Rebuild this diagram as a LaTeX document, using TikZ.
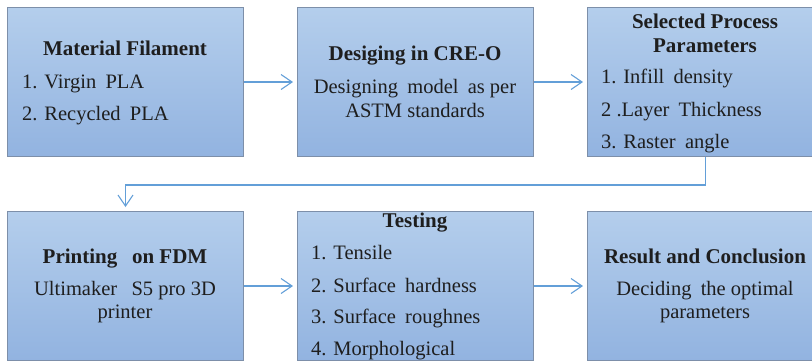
\documentclass[tikz,border=0pt]{standalone}
\usepackage{fontspec}
\setmainfont{Liberation Serif}[UprightFont=*, BoldFont=* Bold]
\newfontfamily\stageserif{Liberation Serif}
\newfontfamily\stageserifbold{Liberation Serif Bold}
\usetikzlibrary{arrows.meta}
\definecolor{boxtop}{HTML}{B4CEEC}
\definecolor{boxbot}{HTML}{92B3E0}
\definecolor{boxline}{HTML}{7D8FA9}
\definecolor{flow}{HTML}{639FD8}
\definecolor{ink}{HTML}{1E1E1E}
\newcommand{\gap}{\hspace{0.45em}}

\begin{document}
\begin{tikzpicture}[x=1pt,y=-1pt,
  stage/.style={draw=boxline, line width=1pt, top color=boxtop, bottom color=boxbot,
    minimum width=236pt, minimum height=149pt, anchor=north west, inner sep=0pt},
  titletext/.style={font=\stageserifbold\fontsize{21}{24}\selectfont, text=ink, inner sep=0pt, anchor=base},
  bodytext/.style={font=\stageserif\fontsize{20.5}{24}\selectfont, text=ink, inner sep=0pt, anchor=base},
  entry/.style={bodytext, anchor=base west},
  flowarrow/.style={draw=flow, line width=1.1pt, -{Straight Barb[length=11pt,width=15pt]}, shorten >=4pt}
]
\useasboundingbox (0,0) rectangle (812,360);
\clip (0,0) rectangle (812,360);

% process stages
\node[stage] (b1) at (7,7) {};
\node[stage] (b2) at (297,7) {};
\node[stage] (b3) at (587,7) {};
\node[stage] (b4) at (7,211) {};
\node[stage] (b5) at (297,211) {};
\node[stage] (b6) at (587,211) {};

% stage 1
\node[titletext] (t1) at (125,55) {Material Filament};
\node[entry] (t1a) at (22,88) {1. Virgin\gap PLA};
\node[entry] (t1b) at (22,120) {2. Recycled\gap PLA};

% stage 2
\node[titletext] (t2) at (415,60) {Desiging in CRE-O};
\node[bodytext] (t2a) at (415,93) {Designing\gap model\gap as per};
\node[bodytext] (t2b) at (415,117) {ASTM standards};

% stage 3
\node[titletext] (t3) at (705,28) {Selected Process};
\node[titletext] (t3b) at (705,52) {Parameters};
\node[entry] (t3c) at (601,83) {1. Infill\gap density};
\node[entry] (t3d) at (601,116) {2 .Layer\gap Thickness};
\node[entry] (t3e) at (601,148) {3. Raster\gap angle};

% stage 4
\node[titletext] (t4) at (125,263) {Printing\hspace{0.7em}on FDM};
\node[bodytext] (t4a) at (125,295) {Ultimaker\hspace{0.7em}S5 pro 3D};
\node[bodytext] (t4b) at (125,318) {printer};

% stage 5
\node[titletext] (t5) at (415,227) {Testing};
\node[entry] (t5a) at (311,259) {1. Tensile};
\node[entry] (t5b) at (311,292) {2. Surface\gap hardness};
\node[entry] (t5c) at (311,323) {3. Surface\gap roughnes};
\node[entry] (t5d) at (311,355) {4. Morphological};

% stage 6
\node[titletext] (t6) at (705,263) {Result and Conclusion};
\node[bodytext] (t6a) at (705,295) {Deciding\gap the optimal};
\node[bodytext] (t6b) at (705,318) {parameters};

% flow between stages
\draw[flowarrow] (b1.east) -- (b2.west);
\draw[flowarrow] (b2.east) -- (b3.west);
\draw[flowarrow] (b3.south) -- ++(0,28) -| (b4.north);
\draw[flowarrow] (b4.east) -- (b5.west);
\draw[flowarrow] (b5.east) -- (b6.west);
\end{tikzpicture}
\end{document}
